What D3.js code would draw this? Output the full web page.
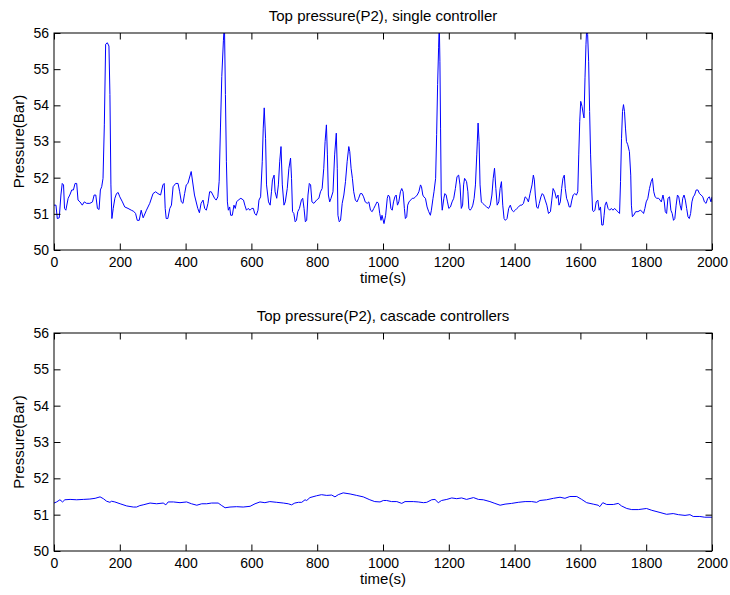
<!DOCTYPE html>
<html>
<head>
<meta charset="utf-8">
<script src="https://cdn.jsdelivr.net/npm/d3@7/dist/d3.min.js"></script>
<style>
  html, body { margin: 0; padding: 0; background: #ffffff; }
  svg { display: block; }
  text { font-family: "Liberation Sans", Arial, Helvetica, sans-serif; fill: #000; }
</style>
</head>
<body>
<svg id="chart" width="730" height="595"></svg>
<script>
// Top pressure P2 with a single controller (time in s, pressure in bar)
const singleTime = [
  0, 6, 10, 16, 21, 25, 29, 32, 36, 43, 48, 54, 59, 64, 69, 73, 79, 86, 92, 99,
  109, 117, 122, 127, 132, 137, 141, 145, 149, 153, 157, 162, 167, 170, 173, 176, 180, 185, 190, 195,
  200, 208, 215, 225, 235, 242, 248, 253, 259, 265, 271, 281, 291, 301, 309, 316, 324, 331, 335, 338,
  341, 346, 352, 357, 362, 370, 377, 382, 387, 392, 397, 402, 407, 417, 427, 437, 442, 447, 453, 458,
  463, 468, 473, 478, 483, 488, 493, 498, 502, 506, 510, 515, 518, 521, 524, 527, 530, 534, 537, 542,
  547, 551, 555, 560, 568, 576, 580, 585, 590, 596, 601, 606, 610, 615, 620, 623, 628, 633, 636, 639,
  643, 646, 652, 657, 661, 664, 669, 672, 677, 682, 686, 690, 694, 699, 703, 709, 714, 719, 722, 725,
  729, 733, 737, 741, 746, 752, 756, 760, 764, 768, 772, 776, 780, 784, 790, 798, 805, 810, 815, 820,
  824, 828, 831, 834, 838, 842, 848, 853, 858, 861, 863, 867, 871, 876, 881, 886, 891, 896, 899, 903,
  907, 911, 916, 921, 926, 931, 936, 941, 946, 952, 957, 962, 967, 972, 977, 982, 986, 990, 994, 997,
  1003, 1008, 1013, 1016, 1020, 1024, 1028, 1032, 1036, 1040, 1044, 1048, 1053, 1057, 1061, 1065, 1068, 1072, 1075, 1079,
  1084, 1089, 1094, 1099, 1104, 1109, 1114, 1117, 1121, 1124, 1129, 1134, 1139, 1144, 1147, 1152, 1155, 1160, 1163, 1166,
  1169, 1171, 1173, 1175, 1177, 1180, 1185, 1188, 1192, 1196, 1200, 1205, 1210, 1215, 1220, 1225, 1230, 1234, 1238, 1242,
  1245, 1248, 1254, 1258, 1261, 1265, 1269, 1273, 1277, 1281, 1285, 1289, 1292, 1295, 1299, 1303, 1309, 1315, 1321, 1326,
  1331, 1335, 1339, 1343, 1347, 1352, 1356, 1360, 1364, 1368, 1372, 1377, 1382, 1387, 1392, 1397, 1402, 1407, 1412, 1417,
  1422, 1427, 1432, 1437, 1442, 1447, 1453, 1457, 1460, 1463, 1467, 1471, 1475, 1480, 1484, 1488, 1493, 1498, 1503, 1509,
  1513, 1517, 1522, 1527, 1532, 1535, 1539, 1543, 1547, 1551, 1554, 1558, 1562, 1566, 1570, 1574, 1578, 1583, 1588, 1592,
  1595, 1598, 1601, 1605, 1608, 1611, 1614, 1617, 1620, 1622, 1625, 1628, 1631, 1634, 1637, 1640, 1644, 1648, 1653, 1657,
  1661, 1665, 1669, 1672, 1675, 1679, 1684, 1689, 1694, 1699, 1704, 1709, 1714, 1719, 1722, 1725, 1728, 1731, 1734, 1737,
  1740, 1744, 1749, 1753, 1755, 1758, 1762, 1768, 1775, 1782, 1788, 1792, 1796, 1800, 1805, 1810, 1815, 1819, 1823, 1827,
  1832, 1838, 1842, 1846, 1851, 1855, 1858, 1862, 1866, 1871, 1875, 1879, 1883, 1887, 1891, 1895, 1899, 1903, 1907, 1911,
  1915, 1919, 1923, 1927, 1931, 1935, 1939, 1943, 1947, 1952, 1957, 1962, 1967, 1972, 1977, 1982, 1987, 1992, 1997, 2000
];
const singlePressure = [
  51.24, 51.24, 50.87, 50.89, 51.52, 51.84, 51.80, 51.15, 51.10, 51.43, 51.52, 51.66, 51.66, 51.84, 51.84, 51.38, 51.33, 51.24, 51.33, 51.29,
  51.29, 51.33, 51.52, 51.52, 51.15, 51.12, 51.66, 51.75, 51.98, 53.46, 55.69, 55.73, 55.64, 54.30, 51.80, 50.87, 51.15, 51.43, 51.56, 51.59,
  51.47, 51.33, 51.19, 51.15, 51.10, 51.07, 51.01, 50.82, 50.82, 51.10, 50.89, 51.10, 51.29, 51.56, 51.61, 51.56, 51.52, 51.80, 51.84, 51.15,
  50.87, 50.87, 51.15, 51.24, 51.75, 51.84, 51.84, 51.61, 51.33, 51.29, 51.56, 51.80, 51.84, 52.17, 51.52, 51.15, 51.03, 51.29, 51.38, 51.15,
  51.10, 51.29, 51.61, 51.61, 51.52, 51.43, 51.38, 51.47, 51.90, 53.40, 54.80, 55.80, 56.30, 54.30, 52.44, 51.33, 51.10, 51.19, 50.96, 50.96,
  51.24, 51.15, 51.33, 51.38, 51.43, 51.38, 51.24, 51.10, 51.15, 51.10, 51.15, 51.15, 51.01, 50.96, 51.10, 51.38, 51.47, 52.44, 53.37, 53.93,
  53.09, 51.80, 51.33, 51.24, 51.61, 51.94, 52.07, 51.61, 51.43, 51.80, 52.44, 52.86, 51.80, 51.24, 51.33, 51.70, 52.26, 52.54, 51.98, 51.06,
  51.01, 50.78, 50.82, 51.06, 51.15, 51.38, 51.43, 51.15, 50.78, 50.82, 51.52, 51.84, 51.80, 51.33, 51.29, 51.38, 51.43, 51.61, 51.70, 52.26,
  53.00, 53.46, 52.63, 51.52, 51.33, 51.43, 51.61, 52.63, 53.23, 52.26, 50.96, 50.78, 50.82, 51.29, 51.52, 51.89, 52.44, 52.86, 52.72, 52.26,
  51.98, 51.61, 51.38, 51.33, 51.43, 51.56, 51.56, 51.47, 51.33, 51.29, 51.33, 51.10, 51.06, 51.15, 51.24, 51.33, 51.29, 51.01, 50.82, 50.96,
  50.73, 50.96, 51.43, 51.52, 51.47, 51.15, 51.10, 51.33, 51.47, 51.52, 51.24, 51.33, 51.61, 51.70, 51.61, 51.15, 50.87, 50.92, 51.24, 51.33,
  51.38, 51.43, 51.43, 51.47, 51.52, 51.61, 51.80, 51.75, 51.52, 51.47, 51.43, 51.19, 51.06, 50.96, 51.10, 51.43, 51.61, 51.98, 53.19, 54.57,
  55.59, 56.30, 55.22, 53.37, 51.52, 51.10, 51.43, 51.56, 51.52, 51.33, 51.15, 51.19, 51.33, 51.43, 51.70, 52.03, 52.07, 51.80, 51.15, 51.24,
  51.80, 51.98, 51.89, 51.61, 51.15, 51.10, 51.15, 51.24, 51.43, 51.80, 52.63, 53.51, 53.00, 51.80, 51.33, 51.29, 51.24, 51.19, 51.15, 51.24,
  51.52, 51.98, 52.26, 51.70, 51.24, 51.33, 51.70, 51.89, 51.24, 50.87, 50.82, 50.87, 51.15, 51.24, 51.10, 51.06, 51.10, 51.15, 51.19, 51.24,
  51.24, 51.29, 51.47, 51.43, 51.33, 51.56, 51.80, 52.07, 51.94, 51.52, 51.19, 51.15, 51.29, 51.47, 51.56, 51.52, 51.38, 51.24, 51.01, 51.06,
  51.38, 51.70, 51.61, 51.43, 51.52, 51.24, 51.33, 51.70, 51.98, 52.07, 51.70, 51.43, 51.33, 51.19, 51.19, 51.38, 51.52, 51.56, 51.52, 51.61,
  52.63, 53.56, 54.11, 53.97, 53.79, 53.65, 54.76, 55.69, 56.30, 55.96, 55.22, 53.83, 52.63, 51.80, 51.10, 51.06, 51.10, 51.33, 51.38, 51.10,
  51.19, 50.69, 50.69, 50.96, 51.24, 51.33, 51.15, 51.10, 51.15, 51.10, 51.15, 51.10, 51.06, 51.01, 51.89, 53.09, 53.83, 54.02, 53.83, 53.37,
  53.00, 52.91, 52.72, 52.07, 51.24, 50.92, 50.96, 51.06, 51.06, 51.10, 51.06, 51.01, 51.15, 51.33, 51.43, 51.70, 51.89, 51.98, 51.61, 51.47,
  51.43, 51.43, 51.38, 51.33, 51.52, 51.33, 51.06, 51.01, 51.43, 51.47, 51.10, 51.01, 50.82, 50.87, 51.24, 51.52, 51.47, 51.24, 51.10, 51.43,
  51.52, 51.38, 51.15, 50.92, 50.87, 51.01, 51.33, 51.47, 51.52, 51.66, 51.66, 51.56, 51.52, 51.47, 51.33, 51.29, 51.43, 51.47, 51.33, 51.47
];

// Top pressure P2 with cascade controllers
const cascadeTime = [
  0, 8, 18, 26, 33, 49, 69, 89, 109, 125, 140, 150, 160, 170, 175, 185, 201, 221, 241, 251,
  261, 271, 292, 312, 332, 340, 347, 363, 383, 403, 418, 434, 449, 464, 479, 499, 510, 520, 535, 555,
  575, 596, 611, 626, 641, 656, 677, 697, 712, 722, 732, 743, 753, 763, 768, 778, 798, 813, 829, 844,
  854, 864, 879, 900, 920, 940, 960, 975, 991, 1001, 1011, 1026, 1042, 1057, 1067, 1092, 1107, 1123, 1133, 1148,
  1158, 1168, 1178, 1194, 1209, 1224, 1239, 1254, 1275, 1290, 1305, 1325, 1340, 1356, 1371, 1391, 1411, 1432, 1452, 1467,
  1477, 1497, 1518, 1538, 1553, 1568, 1589, 1604, 1619, 1639, 1654, 1659, 1668, 1680, 1700, 1715, 1725, 1741, 1756, 1776,
  1801, 1817, 1842, 1862, 1882, 1898, 1918, 1933, 1943, 1963, 1978, 2000
];
const cascadePressure = [
  51.32, 51.35, 51.41, 51.35, 51.41, 51.42, 51.41, 51.42, 51.43, 51.45, 51.49, 51.44, 51.37, 51.34, 51.37, 51.35, 51.30, 51.24, 51.21, 51.21,
  51.25, 51.27, 51.32, 51.30, 51.32, 51.27, 51.35, 51.35, 51.33, 51.35, 51.30, 51.26, 51.30, 51.30, 51.32, 51.32, 51.25, 51.19, 51.21, 51.22,
  51.21, 51.23, 51.30, 51.35, 51.33, 51.36, 51.34, 51.32, 51.30, 51.27, 51.32, 51.34, 51.34, 51.41, 51.39, 51.47, 51.52, 51.55, 51.53, 51.54,
  51.49, 51.55, 51.60, 51.57, 51.53, 51.49, 51.41, 51.36, 51.35, 51.39, 51.39, 51.36, 51.36, 51.31, 51.36, 51.36, 51.35, 51.33, 51.34, 51.41,
  51.42, 51.33, 51.39, 51.42, 51.46, 51.44, 51.46, 51.42, 51.47, 51.42, 51.41, 51.36, 51.31, 51.26, 51.29, 51.31, 51.34, 51.36, 51.36, 51.34,
  51.39, 51.41, 51.45, 51.48, 51.45, 51.50, 51.50, 51.42, 51.33, 51.29, 51.26, 51.22, 51.33, 51.28, 51.28, 51.31, 51.24, 51.17, 51.14, 51.14,
  51.17, 51.12, 51.06, 51.01, 51.03, 51.00, 50.98, 51.00, 50.95, 50.95, 50.93, 50.93
];

const xTicks = [0, 200, 400, 600, 800, 1000, 1200, 1400, 1600, 1800, 2000];
const yTicks = [50, 51, 52, 53, 54, 55, 56];
const panelTitles = ["Top pressure(P2), single controller", "Top pressure(P2), cascade controllers"];
const xLabel = "time(s)";
const yLabel = "Pressure(Bar)";

const svg = d3.select("#chart");
const left = 54, right = 712, tick = 6.5;

const panels = [
  { top: 33, bottom: 250, time: singleTime, pressure: singlePressure, title: panelTitles[0] },
  { top: 333, bottom: 551, time: cascadeTime, pressure: cascadePressure, title: panelTitles[1] }
];

panels.forEach((p, i) => {
  const x = d3.scaleLinear().domain([0, 2000]).range([left, right]);
  const y = d3.scaleLinear().domain([50, 56]).range([p.bottom, p.top]);
  const g = svg.append("g");

  const clipId = "clip" + i;
  svg.append("defs").append("clipPath").attr("id", clipId)
    .append("rect").attr("x", left).attr("y", p.top)
    .attr("width", right - left).attr("height", p.bottom - p.top);

  const series = p.time.map((t, k) => [t, p.pressure[k]]);
  g.append("path")
    .datum(series)
    .attr("clip-path", `url(#${clipId})`)
    .attr("fill", "none")
    .attr("stroke", "#0000ff")
    .attr("stroke-width", 1)
    .attr("stroke-linejoin", "round")
    .attr("d", d3.line().x(d => x(d[0])).y(d => y(d[1])));

  const styleAxis = sel => {
    sel.select(".domain").remove();
    sel.selectAll(".tick line").attr("stroke", "#000").attr("stroke-width", 1);
    sel.selectAll("text").attr("font-size", "14px")
      .attr("font-family", '"Liberation Sans", Arial, sans-serif').attr("fill", "#000");
  };

  g.append("g").attr("transform", `translate(0,${p.bottom})`)
    .call(d3.axisBottom(x).tickValues(xTicks).tickSize(-tick).tickPadding(7).tickFormat(d3.format("d")))
    .call(styleAxis);
  g.append("g").attr("transform", `translate(0,${p.top})`)
    .call(d3.axisTop(x).tickValues(xTicks).tickSize(-tick).tickFormat(""))
    .call(styleAxis);
  g.append("g").attr("transform", `translate(${left},0)`)
    .call(d3.axisLeft(y).tickValues(yTicks).tickSize(-tick).tickPadding(5).tickFormat(d3.format("d")))
    .call(styleAxis);
  g.append("g").attr("transform", `translate(${right},0)`)
    .call(d3.axisRight(y).tickValues(yTicks).tickSize(-tick).tickFormat(""))
    .call(styleAxis);

  g.append("rect")
    .attr("x", left).attr("y", p.top)
    .attr("width", right - left).attr("height", p.bottom - p.top)
    .attr("fill", "none").attr("stroke", "#000").attr("stroke-width", 1);

  const cx = (left + right) / 2;
  g.append("text").attr("x", cx).attr("y", p.top - 12)
    .attr("text-anchor", "middle").attr("font-size", "15px").text(p.title);
  g.append("text").attr("x", cx).attr("y", p.bottom + 33)
    .attr("text-anchor", "middle").attr("font-size", "15px").text(xLabel);
  g.append("text")
    .attr("transform", `translate(24,${(p.top + p.bottom) / 2}) rotate(-90)`)
    .attr("text-anchor", "middle").attr("font-size", "15px").text(yLabel);
});
</script>
</body>
</html>
